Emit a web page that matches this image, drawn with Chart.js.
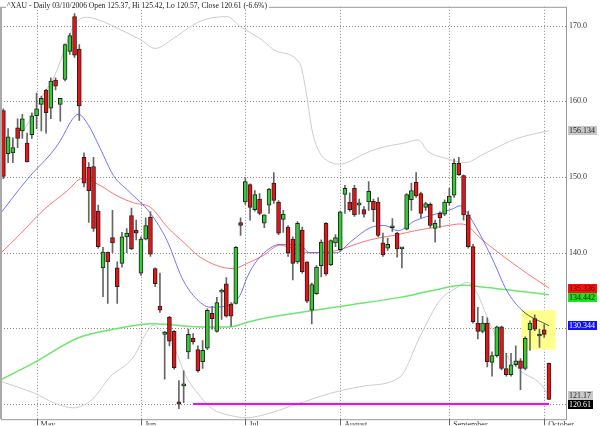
<!DOCTYPE html>
<html lang="en">
<head>
<meta charset="UTF-8">
<title>^XAU Daily</title>
<script src="https://cdn.jsdelivr.net/npm/chart.js@4.4.0/dist/chart.umd.min.js"></script>
<style>
	html, body { margin: 0; padding: 0; background: #fff; overflow: hidden; }
	#wrap { width: 600px; height: 426px; }
</style>
</head>
<body>
<div id="wrap"><canvas id="myChart"></canvas></div>
<script>
	// daily candles, 20 Apr 2006 .. 3 Oct 2006 (index = trading day)
	const opens  = [158.8,153.1,153.2,156.5,156.1,154.5,155.6,158.1,159.6,161.5,159.1,162.8,159.6,162.9,166.6,171.2,166.9,152.6,151.3,151.4,145.5,138.0,140.1,142.0,138.0,138.6,142.1,144.9,143.0,137.3,141.8,144.7,137.9,132.9,129.2,131.5,129.6,120.3,122.4,126.9,128.7,127.2,125.6,127.4,132.0,129.6,134.8,135.9,133.2,133.3,144.0,146.7,149.0,145.7,147.1,143.9,146.3,149.2,146.7,144.4,143.4,141.8,138.8,143.0,138.8,132.4,134.6,138.3,143.9,138.4,141.3,140.4,147.7,146.7,148.5,146.3,145.7,146.7,146.8,146.7,141.3,140.6,143.3,142.6,140.5,143.1,147.0,149.3,147.8,146.0,146.4,143.2,145.2,145.1,146.6,147.6,151.8,150.2,145.0,140.8,130.7,129.6,130.7,125.5,126.4,130.2,124.7,123.9,125.2,125.7,124.7,129.8,131.3,129.0,129.8,125.37]
	const highs  = [159.0,156.4,155.2,157.7,158.3,155.8,158.5,161.1,160.7,161.6,163.1,163.1,160.4,167.6,169.0,171.6,167.5,153.2,151.9,152.6,146.3,140.7,140.1,145.6,138.8,142.7,143.2,145.9,144.3,142.1,144.6,145.4,138.0,137.3,129.6,131.6,129.7,123.1,124.4,129.9,129.3,127.7,128.4,132.6,132.9,134.1,135.2,136.7,133.4,140.8,144.6,149.9,149.1,148.2,147.8,145.0,148.5,150.6,146.9,145.6,143.6,142.1,144.1,143.4,138.8,136.0,138.3,141.7,144.0,141.7,142.4,145.5,148.9,147.9,148.9,147.1,146.1,149.4,147.1,147.3,142.6,141.9,144.5,142.7,140.7,147.8,149.2,150.6,148.0,146.7,146.6,144.3,145.4,147.0,148.5,152.4,152.6,150.3,145.5,141.1,132.8,131.6,131.4,126.9,130.3,130.3,126.7,126.7,127.7,126.0,128.9,131.0,131.8,129.9,130.5,125.42]
	const lows   = [149.8,151.9,151.9,153.9,155.1,152.0,155.1,156.4,156.1,155.8,157.7,161.5,157.4,162.7,166.2,165.8,157.5,148.7,144.0,142.8,140.6,134.2,133.3,140.0,133.3,138.1,140.0,140.4,141.7,137.0,141.7,139.5,135.5,132.1,123.3,127.7,124.6,119.4,120.2,126.0,127.9,124.2,124.7,127.2,129.9,129.5,131.2,131.5,130.3,133.2,142.3,146.4,144.3,145.5,145.0,143.3,145.2,146.5,142.4,142.7,139.5,136.4,138.6,137.3,133.4,130.6,134.5,136.8,137.0,138.3,140.8,140.2,145.2,145.5,144.8,145.1,144.7,145.6,144.1,142.1,139.5,140.3,142.8,139.4,138.0,143.0,145.6,147.3,144.6,145.6,143.3,141.4,143.3,144.9,146.3,147.3,150.2,144.3,140.6,130.7,128.6,129.4,124.9,123.7,126.2,124.5,123.7,123.7,125.0,121.9,124.5,127.1,129.7,127.5,128.8,120.57]
	const closes = [150.1,155.3,153.9,155.1,157.7,152.0,158.1,159.0,160.4,158.5,162.7,162.0,160.4,167.5,168.7,166.1,159.4,149.2,148.2,143.2,140.8,140.1,138.8,141.3,135.5,142.1,142.6,140.5,142.6,141.8,143.6,139.8,135.9,132.4,129.5,128.3,124.8,120.0,122.6,129.2,128.2,124.4,127.1,132.4,131.3,133.4,134.9,131.6,131.6,140.7,143.6,149.4,146.0,147.7,145.2,145.0,148.4,146.9,142.6,145.1,140.0,138.6,143.9,137.5,133.6,135.8,138.1,141.4,137.2,141.6,142.0,145.4,148.5,145.7,145.0,146.6,145.1,148.1,145.7,142.3,139.7,141.1,143.4,140.5,140.7,147.7,148.2,147.5,145.2,146.5,143.6,143.9,144.6,146.7,147.5,151.8,150.3,145.0,140.8,130.9,129.6,130.7,125.6,126.4,130.2,124.7,123.9,125.2,125.7,124.7,128.7,130.7,129.9,129.1,129.2,120.61]

	// indicator lines, [trading day, value]
	const ma20 = [[-0.6,145.2],[1.5,146.9],[3.6,148.6],[6.3,150.6],[9.9,153.0],[12,154.8],[14.5,157.6],[15.8,158.3],[17.7,157.1],[20.4,153.8],[23.2,150.2],[26.3,148.2],[31,145.2],[34.5,141.6],[37.7,136.6],[40.4,134.1],[43.6,132.8],[47.8,133.1],[49.9,134.4],[51.4,136.8],[53.5,139.0],[56.2,140.6],[58.3,141.1],[62.5,141.0],[64.6,140.0],[70.3,140.0],[73.1,141.4],[77.3,143.3],[80.4,143.6],[83.2,142.9],[86.7,144.2],[91.6,145.2],[94.7,145.8],[96.2,146.2],[97.7,145.3],[100.4,142.5],[103.2,139.0],[106.1,135.0],[109.3,132.4],[115,130.344]]
	const ma50 = [[-0.6,139.9],[3.6,142.5],[8.4,145.6],[13.5,148.2],[16.6,149.8],[19.8,149.1],[24,147.5],[27.4,146.6],[31,146.0],[34.7,143.3],[38.3,141.2],[41.5,139.4],[48.4,137.9],[51.4,138.6],[54.7,139.6],[58.3,141.0],[60.4,140.7],[64.6,140.0],[70.3,140.3],[73.7,141.0],[77.3,141.7],[83.2,142.4],[86.7,142.9],[93.7,143.6],[96.2,143.8],[97.7,143.6],[100.4,142.0],[104.6,139.9],[110.3,137.3],[115,135.336]]
	const ma200 = [[-0.6,123.2],[6.3,125.4],[15.6,128.7],[22.5,129.8],[31.6,130.6],[41.5,130.2],[47.8,130.2],[51.4,130.8],[55.6,131.4],[64.6,132.3],[73.1,133.1],[83.6,134.1],[90.5,135.0],[96.8,135.7],[101.9,135.4],[107.4,135.0],[115,134.442]]
	const bandUpper = [[3.6,155.4],[6.3,158.3],[8.4,160.9],[10.5,163.0],[12,165.3],[13.5,167.9],[14.5,169.6],[16.2,170.9],[17.7,171.1],[20.4,170.7],[24.6,169.5],[28.8,168.2],[32,167.0],[35.8,168.3],[40,170.1],[42.9,170.9],[47.2,171.2],[49.9,169.9],[54.1,168.3],[57.7,166.6],[62.5,165.0],[63.8,161.3],[65.1,156.1],[66.7,153.2],[68.8,152.0],[70.9,151.7],[73.1,152.1],[75.2,152.8],[77.3,153.4],[80.4,154.0],[84.6,154.5],[87.4,154.9],[89.5,153.4],[93.7,152.4],[97.3,151.9],[101.1,153.0],[104.6,154.1],[108.8,155.2],[115,156.134]]
	const bandLower = [[-0.6,123.0],[6.3,121.5],[10.9,120.1],[14.7,119.5],[18.7,120.6],[22.5,123.6],[27.4,126.2],[30.5,129.8],[31.6,130.4],[33.5,129.5],[36.2,127.2],[38.3,123.9],[41.5,121.0],[44.2,119.3],[47.8,118.5],[51.2,118.2],[56.2,118.8],[60.4,119.7],[63.4,120.3],[68.8,121.4],[76.2,122.4],[83.6,123.6],[87.8,128.9],[92,133.7],[95.6,135.4],[97.7,136.1],[99.8,134.7],[102.5,130.7],[105.3,127.2],[108.8,124.5],[113,122.8],[115,121.17]]

	// support line and highlight box
	const supportDays = [40, 115]
	const supportLevel = 120.0
	const boxDays = [109.2, 116.4]
	const boxLevels = [127.2, 132.4]

	const monthTicks = [7, 29, 51, 71, 94, 114]
	const monthNames = ['May', 'Jun', 'Jul', 'August', 'September', 'October']
	const yTicks = [120, 130, 140, 150, 160, 170]

	const lastValues = [156.134, 135.336, 134.442, 130.344, 121.17, 120.61]
	const lastBg = ['#c8c8c8', '#ff1010', '#20e020', '#1010ff', '#c8c8c8', '#000000']
	const lastFg = ['#222', '#300', '#020', '#fff', '#222', '#fff']

	const titleText = '^XAU - Daily 03/10/2006 Open 125.37, Hi 125.42, Lo 120.57, Close 120.61 (-6.6%)'

	const toPoints = arr => arr.map(p => ({x: p[0], y: p[1]}))
	const up = i => closes[i] >= opens[i]

	function lineSet(arr, color, width, order) {
		return {
			type: 'line',
			data: toPoints(arr),
			borderColor: color,
			borderWidth: width,
			pointRadius: 0,
			cubicInterpolationMode: 'monotone',
			order: order
		}
	}

	// dotted grid + highlight box, under the candles
	var backPlugin = {
		id: 'back',
		beforeDatasetsDraw(chart) {
			const x = chart.scales.x, y = chart.scales.y, ctx = chart.ctx
			const a = chart.chartArea
			ctx.save()
			ctx.strokeStyle = '#8c8c8c'
			ctx.lineWidth = 1
			ctx.setLineDash([1, 2])
			x.ticks.forEach(t => {
				const px = Math.round(x.getPixelForValue(t.value)) + 0.5
				ctx.beginPath()
				ctx.moveTo(px, a.top)
				ctx.lineTo(px, a.bottom)
				ctx.stroke()
			})
			y.ticks.forEach(t => {
				const py = Math.round(y.getPixelForValue(t.value)) + 0.5
				ctx.beginPath()
				ctx.moveTo(a.left, py)
				ctx.lineTo(a.right + 1, py)
				ctx.stroke()
			})
			ctx.setLineDash([])

			const x0 = x.getPixelForValue(boxDays[0]), x1 = x.getPixelForValue(boxDays[1])
			const y0 = y.getPixelForValue(boxLevels[1]), y1 = y.getPixelForValue(boxLevels[0])
			ctx.fillStyle = '#ffff8c'
			ctx.fillRect(x0, y0, x1 - x0, y1 - y0)
			ctx.restore()
		}
	}

	var framePlugin = {
		id: 'frame',
		afterDraw(chart) {
			const a = chart.chartArea, ctx = chart.ctx
			const x = chart.scales.x, y = chart.scales.y
			ctx.save()
			ctx.strokeStyle = '#999'
			ctx.lineWidth = 1
			ctx.strokeRect(a.left + 0.5, a.top + 0.5, a.right - a.left - 1, a.bottom - a.top)
			ctx.fillStyle = '#aaa'
			ctx.fillRect(0, a.top, 2, a.bottom - a.top)

			// month tick marks below the frame
			ctx.strokeStyle = '#666'
			x.ticks.forEach(t => {
				const px = Math.round(x.getPixelForValue(t.value)) + 0.5
				ctx.beginPath()
				ctx.moveTo(px, a.bottom)
				ctx.lineTo(px, a.bottom + 6)
				ctx.stroke()
			})

			// last-value labels on the right axis
			ctx.font = '8px "Liberation Serif"'
			ctx.textBaseline = 'middle'
			const h = 9
			const items = lastValues.map((v, i) => ({v: v, i: i, py: y.getPixelForValue(v)}))
				.sort((p, q) => p.py - q.py)
			for (let k = 1; k < items.length; k++) {
				if (items[k].py - items[k - 1].py < h) items[k].py = items[k - 1].py + h
			}
			items.forEach(it => {
				const txt = String(it.v)
				const w = ctx.measureText(txt).width
				ctx.fillStyle = lastBg[it.i]
				ctx.fillRect(a.right + 1, Math.round(it.py - h / 2), w + 3, h)
				ctx.fillStyle = lastFg[it.i]
				ctx.fillText(txt, a.right + 2, it.py + 0.5)
			})

			// title over the top frame line
			ctx.font = '9px "Liberation Serif"'
			const tw = ctx.measureText(titleText).width
			const target = 260
			ctx.fillStyle = '#fff'
			ctx.fillRect(6, 0, target + 3, 10)
			ctx.translate(7, 5)
			ctx.scale(target / tw, 1)
			ctx.fillStyle = '#222'
			ctx.fillText(titleText, 0, 0.5)
			ctx.restore()
		}
	}

	var ctx = document.getElementById('myChart').getContext('2d')

	var chart = new Chart(ctx, {
		type: 'bar',
		data: {
			datasets: [
				{
					data: opens.map((o, i) => ({x: i, y: [Math.min(o, closes[i]), Math.max(o, closes[i])]})),
					backgroundColor: opens.map((o, i) => up(i) ? '#33cc33' : '#ee1111'),
					borderColor: '#222',
					borderWidth: 1,
					borderSkipped: false,
					barThickness: 4,
					minBarLength: 2,
					grouped: false,
					order: 0
				},
				{
					data: lows.map((l, i) => ({x: i, y: [l, highs[i]]})),
					backgroundColor: '#666',
					borderWidth: 0,
					barThickness: 1,
					grouped: false,
					order: 1
				},
				{
					type: 'line',
					data: supportDays.map(d => ({x: d, y: supportLevel})),
					borderColor: '#ff00ff',
					borderWidth: 2,
					pointRadius: 0,
					order: 2
				},
				Object.assign(lineSet(ma20, 'rgba(90,90,255,0.85)', 1, 3), {
					segment: { borderColor: c => c.p0.parsed.x >= boxDays[0] ? '#555' : undefined }
				}),
				lineSet(ma50, 'rgba(255,90,90,0.85)', 1, 4),
				lineSet(ma200, 'rgba(110,230,110,1)', 1.5, 5),
				lineSet(bandUpper, '#cccccc', 1, 6),
				lineSet(bandLower, '#cccccc', 1, 7)
			]
		},
		options: {
			responsive: true,
			maintainAspectRatio: false,
			animation: false,
			layout: { padding: { top: 5, left: 1, right: 0, bottom: 0 } },
			scales: {
				x: {
					type: 'linear',
					min: -0.5,
					max: 118.8,
					offset: false,
					afterFit: s => { s.height = 6 },
					afterBuildTicks: s => { s.ticks = monthTicks.map(v => ({value: v})) },
					ticks: {
						align: 'start',
						padding: 1,
						maxRotation: 0,
						autoSkip: false,
						color: '#333',
						font: { family: 'Liberation Serif', size: 8 },
						callback: v => '  ' + monthNames[monthTicks.indexOf(v)]
					},
					grid: { drawOnChartArea: false, drawTicks: false },
					border: { display: false }
				},
				y: {
					type: 'linear',
					position: 'right',
					min: 118,
					max: 172.5,
					afterFit: s => { s.width = 33 },
					afterBuildTicks: s => { s.ticks = yTicks.map(v => ({value: v})) },
					ticks: {
						padding: 2,
						color: '#333',
						font: { family: 'Liberation Serif', size: 8 },
						callback: v => v.toFixed(1)
					},
					grid: { drawOnChartArea: false, drawTicks: false },
					border: { display: false }
				}
			},
			plugins: {
				legend: { display: false },
				tooltip: { enabled: false }
			}
		},
		plugins: [backPlugin, framePlugin]
	})
</script>
</body>
</html>
